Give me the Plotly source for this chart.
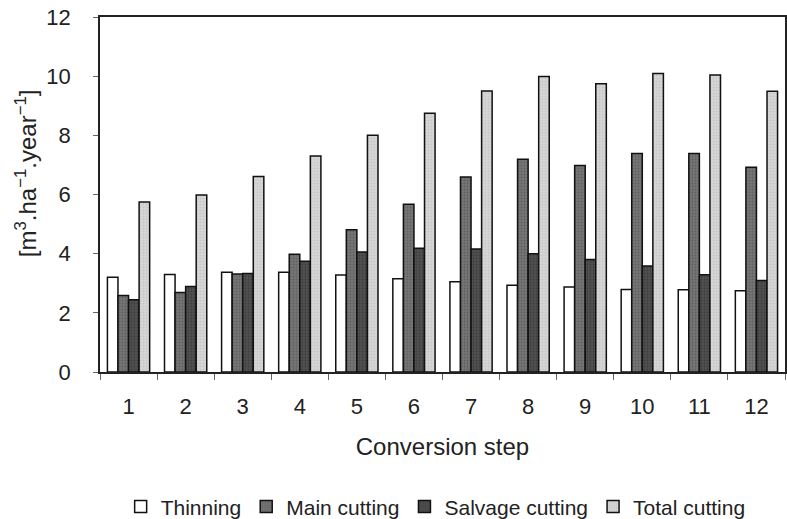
import plotly.graph_objects as go

steps = [str(i) for i in range(1, 13)]
thinning = [3.2, 3.3, 3.37, 3.37, 3.28, 3.15, 3.05, 2.93, 2.87, 2.79, 2.78, 2.75]
main_cutting = [2.59, 2.69, 3.31, 3.98, 4.81, 5.67, 6.59, 7.19, 6.98, 7.39, 7.39, 6.92]
salvage_cutting = [2.44, 2.89, 3.33, 3.74, 4.06, 4.18, 4.16, 4.0, 3.8, 3.58, 3.29, 3.09]
total_cutting = [5.75, 5.98, 6.61, 7.3, 8.0, 8.75, 9.5, 9.99, 9.74, 10.09, 10.04, 9.49]
y_title = "[m<sup>3</sup>.ha<sup>\u22121</sup>.year<sup>\u22121</sup>]"

series = [
    ("Thinning", thinning, "white", None),
    ("Main cutting", main_cutting, "#757575", "#4a4a4a"),
    ("Salvage cutting", salvage_cutting, "#505050", "#2a2a2a"),
    ("Total cutting", total_cutting, "#d6d6d6", "#b5b5b5"),
]

fig = go.Figure()
for name, vals, col, pcol in series:
    marker = dict(color=col, line=dict(color="#111111", width=1.5))
    if pcol:
        marker["pattern"] = dict(shape=".", fgcolor=pcol, bgcolor=col, size=3, solidity=0.3)
    fig.add_trace(go.Bar(name=name, x=steps, y=vals, marker=marker))

fig.update_layout(
    width=787, height=519,
    barmode="group", bargap=0.26, bargroupgap=0,
    plot_bgcolor="white", paper_bgcolor="white",
    margin=dict(l=100, r=2, t=17, b=147, autoexpand=False),
    font=dict(family="Liberation Sans, Arial, sans-serif", size=18, color="#222222"),
    showlegend=True,
    legend=dict(orientation="h", x=0.49, xanchor="center", y=-0.38, yanchor="middle",
                font=dict(size=21), itemwidth=30, traceorder="normal",
                tracegroupgap=0),
    annotations=[dict(text=y_title, textangle=-90, xref="paper", yref="paper",
                      x=-0.108, y=0.56, xanchor="center", yanchor="middle",
                      showarrow=False, font=dict(size=24))],
)
fig.update_xaxes(
    type="category", tickson="boundaries", ticks="outside", ticklen=6, tickcolor="#666",
    showline=True, linecolor="#222", linewidth=1.5, mirror=True, showgrid=False,
    title=dict(text="Conversion step", font=dict(size=24), standoff=20),
    tickfont=dict(size=22), ticklabelstandoff=14,
)
fig.update_yaxes(
    range=[0, 12], dtick=2, ticks="outside", ticklen=5, tickcolor="#666",
    showline=True, linecolor="#222", linewidth=1.5, mirror=True, showgrid=False,
    zeroline=False,
    tickfont=dict(size=22), ticklabelstandoff=18,
)

fig.write_html("out.html", config={"displayModeBar": False})
with open("out.html", encoding="utf-8") as f:
    html = f.read()
html = html.replace("<head>", "<head><style>html,body{margin:0;padding:0;overflow:hidden;}</style>", 1)
with open("out.html", "w", encoding="utf-8") as f:
    f.write(html)
